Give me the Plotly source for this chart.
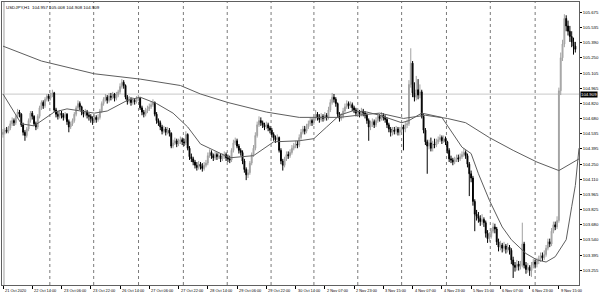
import plotly.graph_objects as go

# ---------------- data (USDJPY H1) ----------------
first_open = 104.53
closes = [
    104.55,104.57,104.56,104.59,104.63,104.66,104.64,104.70,104.74,104.72,
    104.62,104.55,104.52,104.58,104.66,104.73,104.70,104.63,104.60,104.70,
    104.78,104.83,104.80,104.86,104.89,104.87,104.90,104.92,104.76,104.72,
    104.70,104.73,104.71,104.69,104.72,104.65,104.60,104.63,104.66,104.72,
    104.78,104.82,104.79,104.74,104.72,104.74,104.71,104.70,104.68,104.66,
    104.69,104.67,104.69,104.75,104.82,104.86,104.88,104.85,104.89,104.88,
    104.91,104.87,104.90,104.93,104.98,105.02,104.99,104.88,104.84,104.86,
    104.83,104.85,104.84,104.86,104.87,104.78,104.74,104.72,104.75,104.77,
    104.79,104.81,104.83,104.72,104.66,104.64,104.60,104.56,104.58,104.55,
    104.57,104.54,104.42,104.45,104.47,104.44,104.46,104.48,104.46,104.45,
    104.53,104.40,104.32,104.30,104.27,104.24,104.22,104.25,104.23,104.21,
    104.24,104.26,104.33,104.36,104.33,104.31,104.34,104.32,104.33,104.30,
    104.32,104.34,104.31,104.30,104.29,104.38,104.45,104.47,104.42,104.38,
    104.36,104.28,104.20,104.15,104.17,104.26,104.34,104.40,104.52,104.62,
    104.66,104.64,104.62,104.60,104.62,104.59,104.57,104.53,104.50,104.48,
    104.50,104.38,104.28,104.24,104.30,104.34,104.33,104.36,104.40,104.42,
    104.44,104.43,104.50,104.55,104.58,104.56,104.60,104.63,104.66,104.64,
    104.68,104.72,104.69,104.67,104.70,104.68,104.71,104.69,104.76,104.83,
    104.88,104.86,104.82,104.72,104.68,104.70,104.75,104.79,104.82,104.80,
    104.81,104.78,104.76,104.73,104.74,104.72,104.75,104.73,104.71,104.66,
    104.60,104.63,104.65,104.62,104.66,104.70,104.68,104.71,104.69,104.67,
    104.62,104.58,104.55,104.57,104.56,104.58,104.55,104.57,104.60,104.58,
    104.62,104.63,105.00,105.20,104.92,104.88,104.95,104.90,104.93,104.70,
    104.57,104.46,104.42,104.45,104.40,104.44,104.43,104.46,104.48,104.50,
    104.47,104.49,104.46,104.38,104.30,104.29,104.27,104.29,104.31,104.30,
    104.32,104.34,104.36,104.33,104.25,104.16,104.12,103.90,103.78,103.76,
    103.74,103.71,103.73,103.70,103.60,103.55,103.57,103.62,103.66,103.64,
    103.52,103.47,103.49,103.46,103.48,103.45,103.47,103.44,103.35,103.30,
    103.28,103.31,103.29,103.30,103.50,103.30,103.26,103.28,103.25,103.30,
    103.33,103.31,103.34,103.36,103.39,103.37,103.40,103.46,103.52,103.50,
    103.62,103.68,103.66,103.72,104.94,105.25,105.38,105.62,105.55,105.50,
    105.45,105.40,105.36,105.33,
]
highs = [
    104.58,104.59,104.60,104.61,104.66,104.69,104.68,104.72,104.77,104.76,
    104.73,104.64,104.57,104.60,104.68,104.75,104.75,104.71,104.65,104.72,
    104.80,104.85,104.85,104.88,104.91,104.91,104.92,104.95,104.93,104.78,
    104.75,104.76,104.75,104.73,104.74,104.73,104.67,104.65,104.68,104.74,
    104.80,104.85,104.84,104.80,104.76,104.77,104.76,104.73,104.72,104.70,
    104.72,104.71,104.72,104.77,104.84,104.88,104.91,104.90,104.92,104.92,
    104.93,104.92,104.93,104.95,105.01,105.05,105.04,105.00,104.90,104.89,
    104.88,104.88,104.87,104.89,104.90,104.88,104.80,104.76,104.78,104.80,
    104.82,104.84,104.86,104.84,104.74,104.68,104.66,104.62,104.61,104.60,
    104.60,104.59,104.55,104.48,104.50,104.49,104.49,104.51,104.50,104.49,
    104.56,104.54,104.42,104.35,104.32,104.29,104.27,104.28,104.27,104.26,
    104.27,104.29,104.36,104.39,104.38,104.35,104.37,104.36,104.36,104.35,
    104.35,104.37,104.36,104.34,104.33,104.40,104.48,104.50,104.49,104.44,
    104.40,104.38,104.30,104.22,104.20,104.28,104.36,104.43,104.55,104.65,
    104.70,104.69,104.66,104.64,104.65,104.64,104.61,104.59,104.55,104.52,
    104.53,104.51,104.40,104.30,104.32,104.37,104.37,104.39,104.43,104.45,
    104.47,104.47,104.53,104.58,104.61,104.61,104.63,104.66,104.69,104.68,
    104.71,104.76,104.74,104.72,104.73,104.72,104.74,104.73,104.79,104.86,
    104.92,104.91,104.88,104.83,104.74,104.73,104.78,104.82,104.85,104.84,
    104.84,104.83,104.80,104.78,104.77,104.76,104.78,104.77,104.75,104.73,
    104.68,104.66,104.68,104.67,104.69,104.73,104.72,104.74,104.73,104.71,
    104.69,104.64,104.60,104.60,104.60,104.61,104.60,104.60,104.63,104.62,
    104.65,104.67,105.04,105.34,105.22,105.02,105.08,105.05,105.00,104.95,
    104.72,104.59,104.48,104.48,104.50,104.47,104.49,104.49,104.51,104.53,
    104.52,104.52,104.51,104.47,104.40,104.33,104.31,104.32,104.34,104.34,
    104.35,104.37,104.40,104.38,104.35,104.27,104.19,104.14,103.92,103.82,
    103.80,103.77,103.78,103.75,103.72,103.63,103.61,103.65,103.70,103.69,
    103.66,103.55,103.53,103.51,103.52,103.50,103.51,103.49,103.46,103.38,
    103.33,103.35,103.34,103.34,103.70,103.52,103.33,103.32,103.30,103.33,
    103.36,103.35,103.37,103.39,103.42,103.42,103.44,103.49,103.55,103.55,
    103.65,103.71,103.71,103.76,104.97,105.30,105.42,105.66,105.65,105.60,
    105.55,105.50,105.44,105.40,
]
lows = [
    104.50,104.53,104.54,104.54,104.57,104.61,104.61,104.62,104.68,104.69,
    104.60,104.52,104.47,104.50,104.56,104.64,104.67,104.61,104.57,104.58,
    104.68,104.76,104.77,104.78,104.84,104.84,104.85,104.88,104.74,104.69,
    104.67,104.68,104.68,104.66,104.67,104.62,104.55,104.58,104.61,104.64,
    104.70,104.76,104.76,104.71,104.69,104.70,104.68,104.66,104.64,104.62,
    104.64,104.64,104.65,104.67,104.73,104.80,104.84,104.82,104.83,104.85,
    104.86,104.84,104.85,104.88,104.91,104.96,104.96,104.86,104.81,104.82,
    104.80,104.81,104.81,104.82,104.84,104.76,104.71,104.69,104.70,104.73,
    104.75,104.77,104.79,104.70,104.63,104.61,104.57,104.53,104.54,104.52,
    104.53,104.51,104.40,104.40,104.43,104.41,104.42,104.44,104.43,104.42,
    104.43,104.38,104.29,104.27,104.24,104.21,104.19,104.20,104.20,104.18,
    104.19,104.22,104.24,104.31,104.30,104.28,104.29,104.29,104.30,104.27,
    104.28,104.30,104.28,104.27,104.26,104.27,104.36,104.43,104.40,104.35,
    104.33,104.25,104.17,104.10,104.12,104.15,104.24,104.32,104.38,104.50,
    104.60,104.61,104.59,104.57,104.58,104.56,104.54,104.50,104.47,104.45,
    104.46,104.36,104.25,104.19,104.22,104.28,104.30,104.31,104.34,104.38,
    104.40,104.40,104.41,104.48,104.53,104.53,104.54,104.58,104.61,104.61,
    104.62,104.66,104.66,104.64,104.65,104.65,104.66,104.66,104.67,104.74,
    104.81,104.83,104.79,104.69,104.65,104.66,104.68,104.73,104.77,104.77,
    104.78,104.75,104.73,104.70,104.70,104.69,104.70,104.70,104.68,104.63,
    104.47,104.57,104.60,104.59,104.60,104.64,104.65,104.66,104.66,104.64,
    104.59,104.55,104.51,104.52,104.53,104.53,104.52,104.52,104.55,104.38,
    104.55,104.59,104.61,104.97,104.88,104.84,104.85,104.86,104.87,104.68,
    104.54,104.43,104.16,104.39,104.37,104.37,104.40,104.41,104.44,104.46,
    104.44,104.45,104.43,104.35,104.27,104.26,104.24,104.25,104.27,104.27,
    104.28,104.30,104.32,104.30,104.22,103.95,104.08,103.86,103.62,103.72,
    103.70,103.67,103.68,103.66,103.56,103.51,103.52,103.55,103.60,103.60,
    103.49,103.43,103.44,103.42,103.43,103.41,103.42,103.40,103.31,103.18,
    103.24,103.25,103.25,103.26,103.28,103.27,103.22,103.23,103.20,103.19,
    103.27,103.27,103.28,103.31,103.33,103.34,103.35,103.38,103.44,103.47,
    103.48,103.60,103.63,103.64,103.70,104.90,105.22,105.35,105.50,105.46,
    105.40,105.35,105.28,105.30,
]

slow_ma_bars = [0, 21, 50, 75, 97, 108, 123, 144, 162, 184, 194, 206, 219, 231, 243, 253, 266, 279, 292, 304, 315]
slow_ma_vals = [105.36, 105.22, 105.10, 105.05, 104.99, 104.91, 104.83, 104.74, 104.69, 104.69, 104.71,
                104.73, 104.68, 104.71, 104.68, 104.64, 104.50, 104.38, 104.27, 104.19, 104.30]

fast_ma_bars = [0, 10, 17, 28, 35, 42, 50, 57, 68, 75, 84, 93, 101, 108, 124, 137, 148, 162, 170, 177,
                184, 191, 199, 206, 218, 222, 229, 240, 244, 251, 256, 260, 266, 273, 278, 286, 292,
                297, 302, 308, 311, 313, 315]
fast_ma_vals = [104.91, 104.63, 104.61, 104.74, 104.77, 104.75, 104.73, 104.75, 104.85, 104.88, 104.82,
                104.73, 104.60, 104.44, 104.31, 104.33, 104.46, 104.47, 104.49, 104.60, 104.71, 104.75,
                104.74, 104.71, 104.64, 104.66, 104.73, 104.69, 104.59, 104.41, 104.35, 104.16, 103.91,
                103.66, 103.54, 103.41, 103.35, 103.33, 103.38, 103.54, 103.85, 104.05, 104.40]

label_bars = list(range(0, 305, 16))
label_texts = ["21 Oct 2020", "22 Oct 14:00", "23 Oct 06:00", "23 Oct 22:00", "26 Oct 14:00",
               "27 Oct 06:00", "27 Oct 22:00", "28 Oct 14:00", "29 Oct 06:00", "29 Oct 22:00",
               "30 Oct 14:00", "2 Nov 07:00", "2 Nov 23:00", "3 Nov 15:00", "4 Nov 07:00",
               "4 Nov 23:00", "5 Nov 15:00", "6 Nov 07:00", "6 Nov 23:00", "9 Nov 15:00"]

price_ticks = [103.110, 103.255, 103.395, 103.540, 103.680, 103.825, 103.965, 104.110, 104.250,
               104.395, 104.535, 104.680, 104.820, 104.965, 105.105, 105.250, 105.390, 105.535, 105.675]

current_price = 104.909
header_text = "USDJPY,H1  104.957 105.008 104.908 104.909"

# ---------------- figure ----------------
opens = [first_open] + closes[:-1]
bars = list(range(len(closes)))
highs_c = [max(h, o, c) for h, o, c in zip(highs, opens, closes)]
lows_c = [min(l, o, c) for l, o, c in zip(lows, opens, closes)]

FONT = "Liberation Sans"
fig = go.Figure()
fig.add_trace(go.Candlestick(
    x=bars, open=opens, high=highs_c, low=lows_c, close=closes,
    increasing=dict(line=dict(color="#a2a2a2", width=1), fillcolor="#b8b8b8"),
    decreasing=dict(line=dict(color="#000000", width=1), fillcolor="#000000"),
    whiskerwidth=0, showlegend=False, hoverinfo="skip"))
fig.add_trace(go.Scatter(x=slow_ma_bars, y=slow_ma_vals, mode="lines",
                         line=dict(color="#5e5e5e", width=1), showlegend=False, hoverinfo="skip"))
fig.add_trace(go.Scatter(x=fast_ma_bars, y=fast_ma_vals, mode="lines",
                         line=dict(color="#5e5e5e", width=1), showlegend=False, hoverinfo="skip"))

W, H = 600, 295
ML, MR, MT, MB = 1, 20, 1, 10
plot_w = W - ML - MR

shapes = []
# dotted vertical grid (pixel columns of the reference grid)
grid_px = [49, 93, 138, 183, 227, 271, 314, 358, 402, 447, 491, 536]
for px in grid_px:
    xp = (px - ML) / plot_w
    shapes.append(dict(type="line", xref="paper", yref="paper", x0=xp, x1=xp, y0=0, y1=1,
                       line=dict(color="#7a7a7a", width=1, dash="dot"), layer="below"))
# left period separator
shapes.append(dict(type="line", xref="paper", yref="paper", x0=2 / plot_w, x1=2 / plot_w, y0=0, y1=1,
                   line=dict(color="#a0a0a0", width=1), layer="below"))
# current price line
shapes.append(dict(type="line", xref="paper", yref="y", x0=0, x1=1, y0=current_price, y1=current_price,
                   line=dict(color="#c8c8c8", width=1), layer="below"))

annotations = []
for b, t in zip(label_bars, label_texts):
    annotations.append(dict(x=b, y=0, xref="x", yref="paper", text=t, showarrow=False,
                            xanchor="left", yanchor="middle", xshift=0, yshift=-5,
                            font=dict(family=FONT, size=3.9, color="#000000")))
annotations.append(dict(x=1, y=current_price, xref="paper", yref="y", text="104.909", showarrow=False,
                        xanchor="left", yanchor="middle", xshift=1, bgcolor="#000000", borderpad=0,
                        font=dict(family=FONT, size=4.3, color="#ffffff")))
annotations.append(dict(x=0, y=1, xref="paper", yref="paper", text=header_text, showarrow=False,
                        xanchor="left", yanchor="top", xshift=2, yshift=-1,
                        font=dict(family=FONT, size=4.4, color="#000000")))

fig.update_layout(
    width=W, height=H,
    margin=dict(l=ML, r=MR, t=MT, b=MB, pad=0),
    plot_bgcolor="#ffffff", paper_bgcolor="#ffffff",
    font=dict(family=FONT, color="#000000"),
    showlegend=False,
    shapes=shapes, annotations=annotations,
    xaxis=dict(range=[-0.55, 315.0], rangeslider=dict(visible=False), showgrid=False, zeroline=False,
               tickmode="array", tickvals=label_bars, ticks="outside", ticklen=3, tickcolor="#000000",
               tickwidth=1, showticklabels=False, showline=True, linecolor="#606060", linewidth=1,
               mirror=True, fixedrange=True),
    yaxis=dict(range=[103.114, 105.775], side="right", showgrid=False, zeroline=False,
               tickmode="array", tickvals=price_ticks, ticktext=[f"{v:.3f}" for v in price_ticks],
               ticks="outside", ticklen=2, tickcolor="#000000", tickwidth=1,
               tickfont=dict(family=FONT, size=4.3, color="#000000"),
               showline=True, linecolor="#606060", linewidth=1, mirror=True, fixedrange=True),
)

fig.write_html("out.html")
